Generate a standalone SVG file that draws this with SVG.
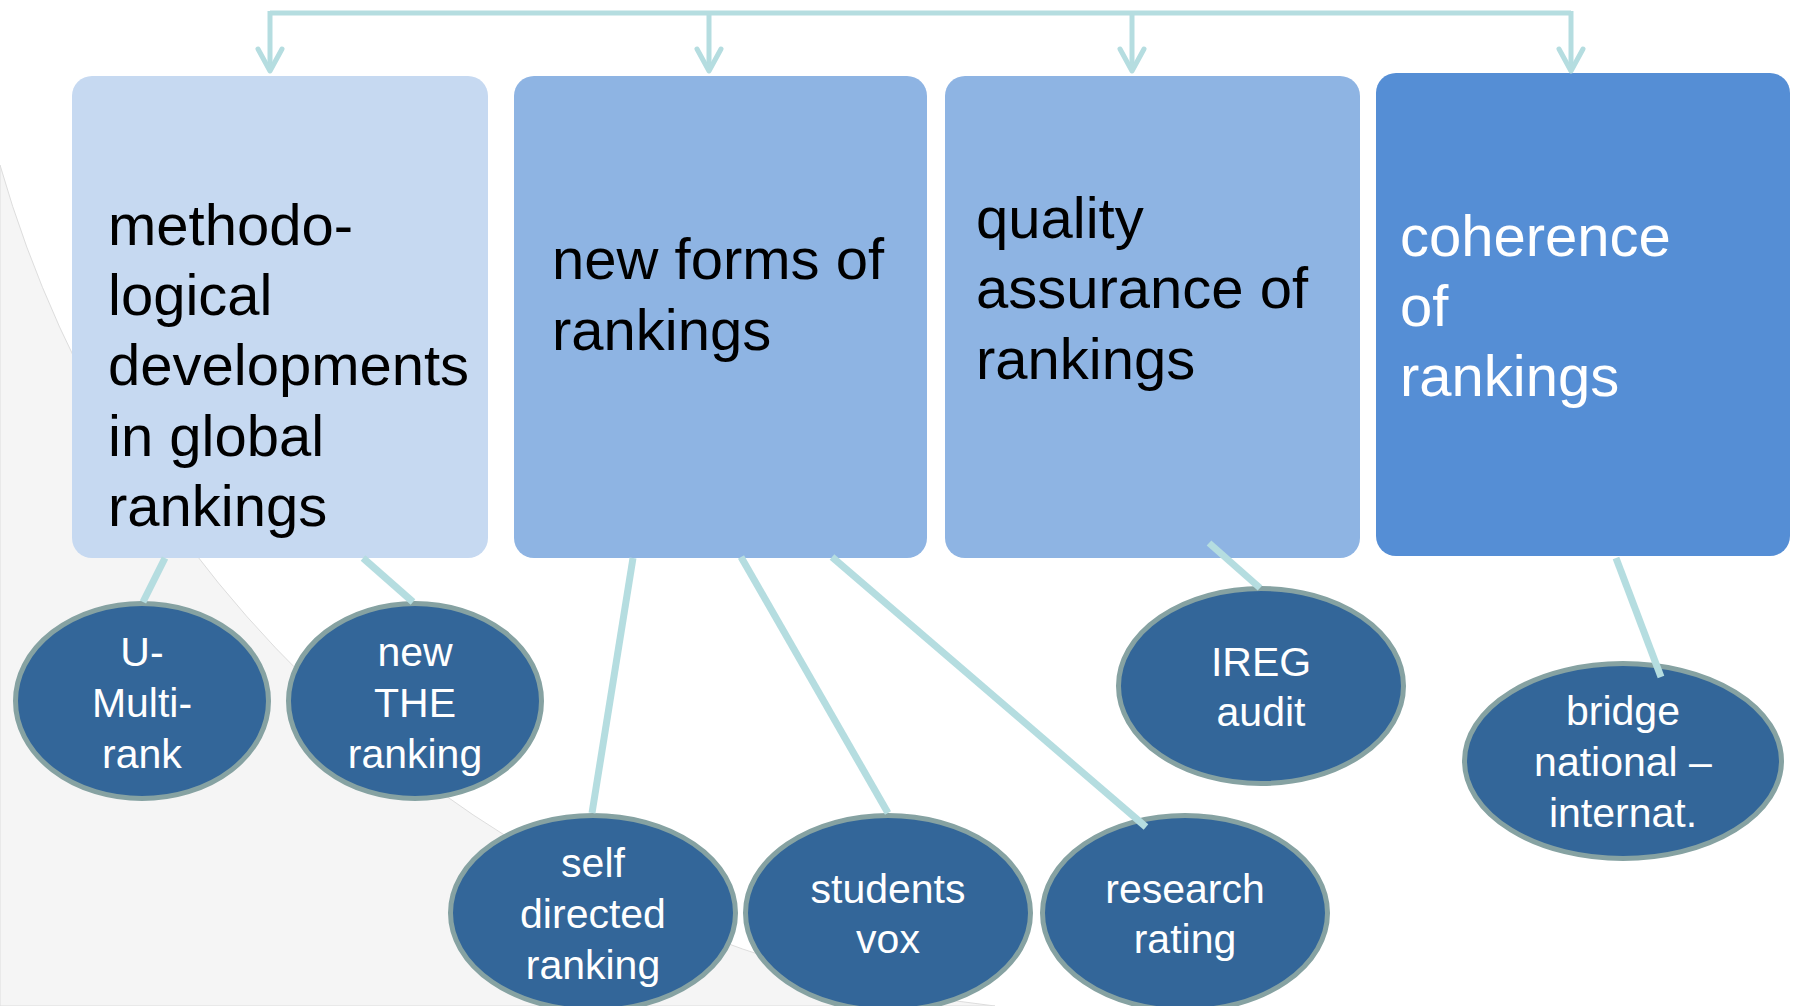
<svg xmlns="http://www.w3.org/2000/svg" width="1793" height="1006" viewBox="0 0 1793 1006">
<style>
.box{stroke:none}
.bt{font-family:"Liberation Sans",Arial,sans-serif;font-size:58px;fill:#000}
.bw{fill:#fff}
.ell{fill:#336699;stroke:#86A2A2;stroke-width:5}
.et{font-family:"Liberation Sans",Arial,sans-serif;font-size:41px;fill:#fff;text-anchor:middle}
.con{stroke:#B5DDE0;stroke-width:7;fill:none}
.top{stroke:#B5DDE0;stroke-width:5;fill:none}
</style>
<defs>
<marker id="arr" viewBox="-28 -16 34 32" markerWidth="34" markerHeight="32" refX="0" refY="0" orient="auto" markerUnits="userSpaceOnUse">
<path d="M-22,-12 L0,0 L-22,12" fill="none" stroke="#B5DDE0" stroke-width="5" stroke-linecap="round" stroke-linejoin="round"/>
</marker>
</defs>
<rect width="1793" height="1006" fill="#fff"/>
<path d="M0,165 A1170,1170 0 0 0 995,1006 L0,1006 Z" fill="#F5F5F5" stroke="#DDDDDD" stroke-width="1"/>

<g id="box1">
<rect class="box" x="72" y="76" width="416" height="482" rx="20" fill="#C6D9F1"/>
<text class="bt"><tspan x="108" y="245">methodo-</tspan><tspan x="108" y="315">logical</tspan><tspan x="108" y="385">developments</tspan><tspan x="108" y="456">in global</tspan><tspan x="108" y="526">rankings</tspan></text>
</g>
<g id="box2">
<rect class="box" x="514" y="76" width="413" height="482" rx="20" fill="#8EB4E3"/>
<text class="bt"><tspan x="552" y="279">new forms of</tspan><tspan x="552" y="350">rankings</tspan></text>
</g>
<g id="box3">
<rect class="box" x="945" y="76" width="415" height="482" rx="20" fill="#8EB4E3"/>
<text class="bt"><tspan x="976" y="238">quality</tspan><tspan x="976" y="308">assurance of</tspan><tspan x="976" y="379">rankings</tspan></text>
</g>
<g id="box4">
<rect class="box" x="1376" y="73" width="414" height="483" rx="20" fill="#558ED5"/>
<text class="bt bw"><tspan x="1400" y="256">coherence</tspan><tspan x="1400" y="326">of</tspan><tspan x="1400" y="396">rankings</tspan></text>
</g>

<g id="umultirank">
<ellipse class="ell" cx="142" cy="701" rx="126.5" ry="97.5"/>
<text class="et"><tspan x="142" y="666">U-</tspan><tspan x="142" y="717">Multi-</tspan><tspan x="142" y="768">rank</tspan></text>
</g>
<g id="newthe">
<ellipse class="ell" cx="415" cy="701" rx="126.5" ry="97.5"/>
<text class="et"><tspan x="415" y="666">new</tspan><tspan x="415" y="717">THE</tspan><tspan x="415" y="768">ranking</tspan></text>
</g>
<g id="selfdirected">
<ellipse class="ell" cx="593" cy="913" rx="142.5" ry="97.5"/>
<text class="et"><tspan x="593" y="877">self</tspan><tspan x="593" y="928">directed</tspan><tspan x="593" y="979">ranking</tspan></text>
</g>
<g id="studentsvox">
<ellipse class="ell" cx="888" cy="913" rx="142.5" ry="97.5"/>
<text class="et"><tspan x="888" y="903">students</tspan><tspan x="888" y="953">vox</tspan></text>
</g>
<g id="researchrating">
<ellipse class="ell" cx="1185" cy="913" rx="142.5" ry="97.5"/>
<text class="et"><tspan x="1185" y="903">research</tspan><tspan x="1185" y="953">rating</tspan></text>
</g>
<g id="iregaudit">
<ellipse class="ell" cx="1261" cy="686" rx="142.5" ry="97.5"/>
<text class="et"><tspan x="1261" y="676">IREG</tspan><tspan x="1261" y="726">audit</tspan></text>
</g>
<g id="bridge">
<ellipse class="ell" cx="1623" cy="761" rx="158.5" ry="97.5"/>
<text class="et"><tspan x="1623" y="725">bridge</tspan><tspan x="1623" y="776">national –</tspan><tspan x="1623" y="827">internat.</tspan></text>
</g>

<g id="connectors">
<path class="top" d="M270,13 H1571"/>
<line class="top" x1="270" y1="11" x2="270" y2="71" marker-end="url(#arr)"/>
<line class="top" x1="709" y1="13" x2="709" y2="71" marker-end="url(#arr)"/>
<line class="top" x1="1132" y1="13" x2="1132" y2="71" marker-end="url(#arr)"/>
<line class="top" x1="1571" y1="11" x2="1571" y2="71" marker-end="url(#arr)"/>
<line class="con" x1="165" y1="558" x2="143" y2="602"/>
<line class="con" x1="363" y1="558" x2="413" y2="602"/>
<line class="con" x1="633" y1="558" x2="592" y2="813"/>
<line class="con" x1="741" y1="557" x2="888" y2="813"/>
<line class="con" x1="832" y1="557" x2="1146" y2="827"/>
<line class="con" x1="1209" y1="543" x2="1260" y2="588"/>
<line class="con" x1="1616" y1="558" x2="1661" y2="677"/>
</g>
</svg>
